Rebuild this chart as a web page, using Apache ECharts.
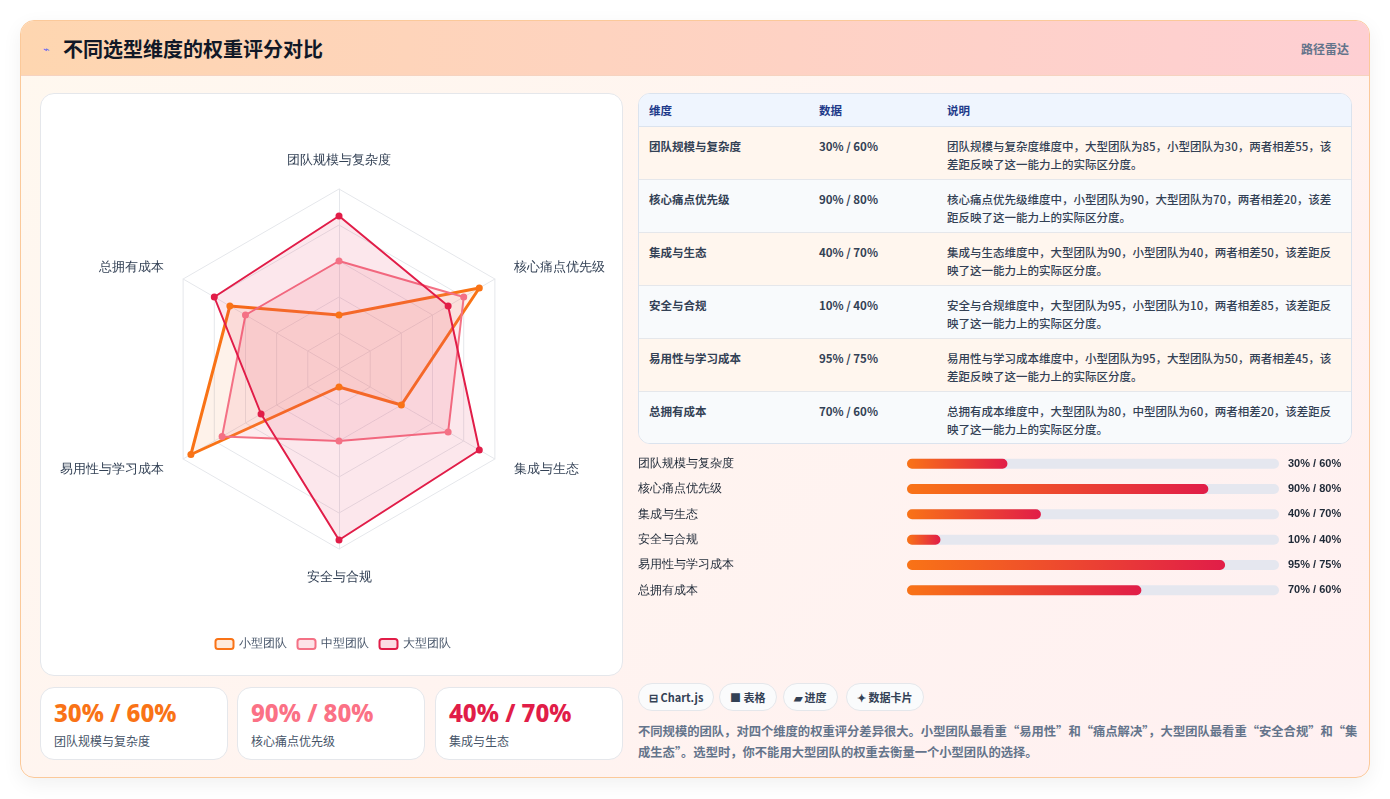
<!DOCTYPE html>
<html><head><meta charset="utf-8">
<script src="https://cdn.jsdelivr.net/npm/echarts@6/dist/echarts.min.js"></script>
<style>
*{box-sizing:border-box;margin:0;padding:0}
body{width:1390px;height:799px;background:#fff;font-family:"Noto Sans CJK SC","Noto Sans",sans-serif;position:relative;overflow:hidden}
#wrap{position:absolute;left:20px;top:20px;width:1350px;height:758px;border:1px solid #fbc99a;border-radius:14px;overflow:hidden;background:linear-gradient(135deg,#fff8ef,#fff0f1);box-shadow:0 6px 20px rgba(0,0,0,0.06)}
#hdr{position:absolute;left:0;top:0;width:100%;height:55px;background:linear-gradient(90deg,#fed6b0,#fecfd3);border-bottom:1px solid #f6d3c0}
#hdr .t{position:absolute;left:42px;top:13px;font-size:20px;font-weight:700;color:#111827}
#hdr .i{position:absolute;left:22px;top:19px;font-size:11px;color:#6366f1}
#hdr .r{position:absolute;right:20px;top:19px;font-size:12px;color:#64748b;font-weight:600}
.card{position:absolute;background:#fff;border:1px solid #e5e7eb;border-radius:14px}
#radarCard{left:19px;top:72px;width:583px;height:583px}
#radar{position:absolute;left:0;top:0;width:583px;height:583px}
.stat{top:666px;height:73px;width:188px}
.stat .v{position:absolute;left:13px;top:8px;font-size:24px;font-weight:800;font-family:"Noto Sans","DejaVu Sans",sans-serif}
.stat .l{position:absolute;left:13px;top:44px;font-size:12px;color:#475569}
#tbl{position:absolute;left:617px;top:72px;width:714px;height:351px;border:1px solid #dbe3ee;border-radius:12px;overflow:hidden;background:#fff}
table{border-collapse:collapse;width:100%;font-size:11.5px;color:#334155}
th{background:#eff5fe;color:#1e3a8a;text-align:left;font-weight:600;height:32px;padding-left:10px;border-bottom:1px solid #dbe3ee}
td{height:53px;padding-left:10px;vertical-align:top;padding-top:10px;line-height:18px;border-top:1px solid #e5e7eb;font-weight:500}
td.d{font-weight:600}
tr.a td{background:#fff6ee}tr.b td{background:#f8fafc}
#bars{position:absolute;left:610px;top:430px;width:730px;height:152px}
.chip{position:absolute;top:662px;height:28px;border:1px solid #e5e7eb;border-radius:14px;background:#fafbfc;font-size:11px;font-weight:700;color:#334155;line-height:26px;padding:0 10px}
#note{position:absolute;left:617px;top:700px;width:730px;font-size:12.3px;color:#64748b;line-height:21px;font-weight:600}
</style></head><body>
<div id="wrap">
<div id="hdr"><span class="i">⌁</span><span class="t">不同选型维度的权重评分对比</span><span class="r">路径雷达</span></div>
<div class="card" id="radarCard"><div id="radar"></div></div>
<div class="card stat" style="left:19px"><div class="v" style="color:#f97316">30% / 60%</div><div class="l">团队规模与复杂度</div></div>
<div class="card stat" style="left:216px"><div class="v" style="color:#fb7185">90% / 80%</div><div class="l">核心痛点优先级</div></div>
<div class="card stat" style="left:414px"><div class="v" style="color:#e11d48">40% / 70%</div><div class="l">集成与生态</div></div>
<div id="tbl"><table id="t"></table></div>
<div id="bars"></div>
<div class="chip" style="left:617px">⊟ Chart.js</div>
<div class="chip" style="left:698px">■ 表格</div>
<div class="chip" style="left:762px">▰ 进度</div>
<div class="chip" style="left:825px">✦ 数据卡片</div>
<div id="note">不同规模的团队，对四个维度的权重评分差异很大。小型团队最看重“易用性”和“痛点解决”，大型团队最看重“安全合规”和“集成生态”。选型时，你不能用大型团队的权重去衡量一个小型团队的选择。</div>
</div>
<script>
const dims=['团队规模与复杂度','核心痛点优先级','集成与生态','安全与合规','易用性与学习成本','总拥有成本'];
const small=[30,90,40,10,95,70];
const medium=[60,80,70,40,75,60];
const large=[85,70,90,95,50,80];
const pairLabels=['30% / 60%','90% / 80%','40% / 70%','10% / 40%','95% / 75%','70% / 60%'];
const barValues=[30,90,40,10,95,70];
const notes=['团队规模与复杂度维度中，大型团队为85，小型团队为30，两者相差55，该差距反映了这一能力上的实际区分度。',
'核心痛点优先级维度中，小型团队为90，大型团队为70，两者相差20，该差距反映了这一能力上的实际区分度。',
'集成与生态维度中，大型团队为90，小型团队为40，两者相差50，该差距反映了这一能力上的实际区分度。',
'安全与合规维度中，大型团队为95，小型团队为10，两者相差85，该差距反映了这一能力上的实际区分度。',
'易用性与学习成本维度中，小型团队为95，大型团队为50，两者相差45，该差距反映了这一能力上的实际区分度。',
'总拥有成本维度中，大型团队为80，中型团队为60，两者相差20，该差距反映了这一能力上的实际区分度。'];
let h='<tr><th style="width:170px">维度</th><th style="width:128px">数据</th><th>说明</th></tr>';
dims.forEach((d,i)=>{h+=`<tr class="${i%2?'b':'a'}"><td class="d">${d}</td><td class="d">${pairLabels[i]}</td><td style="padding-right:12px">${notes[i]}</td></tr>`});
document.getElementById('t').innerHTML=h;
const ord=[0,5,4,3,2,1];
const pick=a=>ord.map(i=>a[i]);
const rc=echarts.init(document.getElementById('radar'));
rc.setOption({
 legend:{bottom:22,left:'center',itemWidth:18,itemHeight:10,itemGap:10,textStyle:{color:'#475569',fontSize:12},
  data:[{name:'小型团队',itemStyle:{color:'rgba(249,115,22,0.15)',borderColor:'#f97316',borderWidth:2}},
        {name:'中型团队',itemStyle:{color:'rgba(244,113,133,0.2)',borderColor:'#f47185',borderWidth:2}},
        {name:'大型团队',itemStyle:{color:'rgba(225,29,72,0.15)',borderColor:'#e11d48',borderWidth:2}}]},
 radar:{center:[298,275],radius:180,splitNumber:5,shape:'polygon',
  indicator:ord.map(i=>({name:dims[i],max:100})),
  axisName:{color:'#334155',fontSize:12.5,fontWeight:500},nameGap:22,
  splitArea:{show:false},splitLine:{lineStyle:{color:'#e5e7eb'}},axisLine:{lineStyle:{color:'#e5e7eb'}}},
 series:[{type:'radar',symbolSize:7,data:[
  {name:'小型团队',value:pick(small),itemStyle:{color:'#f97316'},lineStyle:{color:'#f97316',width:3},areaStyle:{color:'rgba(249,115,22,0.13)'}},
  {name:'中型团队',value:pick(medium),itemStyle:{color:'#f47185'},lineStyle:{color:'#f47185',width:2},areaStyle:{color:'rgba(244,113,133,0.2)'}},
  {name:'大型团队',value:pick(large),itemStyle:{color:'#e11d48'},lineStyle:{color:'#e11d48',width:2},areaStyle:{color:'rgba(225,29,72,0.15)'}}
 ]}]
});
const bc=echarts.init(document.getElementById('bars'));
bc.setOption({
 grid:{left:276,right:82,top:0,bottom:0},
 xAxis:{type:'value',min:0,max:111.1,show:false},
 yAxis:[{type:'category',inverse:true,data:dims,axisLine:{show:false},axisTick:{show:false},axisLabel:{align:'left',margin:269,color:'#1f2937',fontSize:12,fontWeight:500}},
  {type:'category',inverse:true,position:'right',data:pairLabels,axisLine:{show:false},axisTick:{show:false},axisLabel:{align:'left',margin:9,color:'#1f2937',fontSize:11,fontWeight:'bold'}}],
 series:[{type:'bar',data:barValues,barWidth:10,showBackground:true,
  backgroundStyle:{color:'#e5e7ef',borderRadius:5},
  itemStyle:{borderRadius:5,color:new echarts.graphic.LinearGradient(0,0,1,0,[{offset:0,color:'#f97316'},{offset:1,color:'#e11d48'}])}}]
});
</script></body></html>
